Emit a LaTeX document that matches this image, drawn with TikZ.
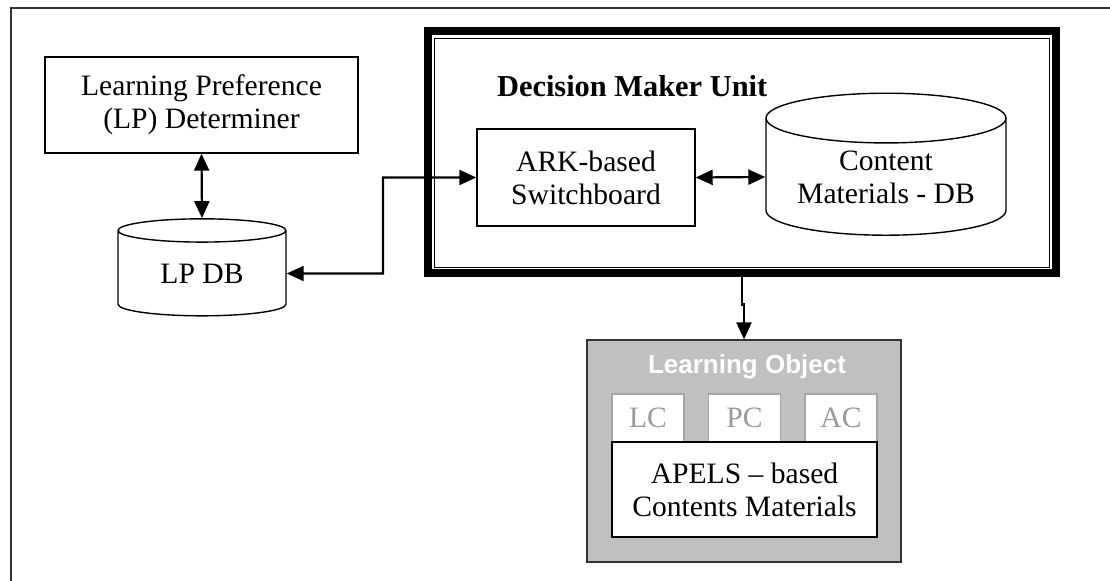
\documentclass[tikz,border=0pt]{standalone}
\usepackage{fontspec}
\setmainfont{Liberation Serif}
\newfontfamily\losans{Liberation Sans}
\usepackage{tikz}
\usetikzlibrary{arrows.meta,calc,shapes.geometric}
\definecolor{logray}{HTML}{C0C0C0}
\definecolor{lcgray}{HTML}{9A9A9A}
\newcommand{\bodyfont}{\fontsize{14.8}{16.5}\selectfont}
\tikzset{
  >={Triangle[length=8.5pt,width=7.5pt]},
  % rutor
  box/.style={draw,line width=0.7pt,align=center,inner sep=0pt,font=\bodyfont},
  db/.style={cylinder,shape border rotate=90,draw,line width=0.7pt,align=center,
             inner sep=0pt,font=\bodyfont},
  dmuframe/.style={draw,line width=4pt,minimum width=314pt,minimum height=121pt,inner sep=0pt},
  thinframe/.style={draw,line width=0.5pt},
  lobox/.style={draw=black!80,fill=logray,line width=0.6pt,minimum width=157pt,
                minimum height=111pt,inner sep=0pt},
  comp/.style={draw=black!35,fill=white,line width=0.6pt,minimum width=36pt,
               minimum height=24pt,inner sep=0pt,text=lcgray,font=\bodyfont},
  % pilar
  conn/.style={->,line width=1.1pt},
  frame/.style={draw=black!80,line width=0.7pt},
}
\begin{document}
\begin{tikzpicture}[x=0.5pt,y=-0.5pt]
  \useasboundingbox (0,0) rectangle (1110,581);
  \draw[frame] (11,581) -- (11,8) -- (1110,8);
  % vänster del
  \node[box,minimum width=156.5pt,minimum height=48pt] (lpdet) at (201.5,105)
    {Learning Preference\\(LP) Determiner};
  \node[db,minimum width=84pt,minimum height=48.5pt,aspect=0.28] (lpdb) at (202,273.5) {LP DB};
  % beslutsenheten
  \node[dmuframe] (dmu) at (742,152.5) {};
  \draw[thinframe] ($(dmu.north west)+(10.5,11)$) rectangle ($(dmu.south east)+(-10.5,-10)$);
  \node[anchor=west,font=\fontsize{15.2}{17}\selectfont\bfseries] (dmutitle) at (490,86)
    {Decision Maker Unit};
  \node[box,minimum width=109pt,minimum height=48.5pt] (ark) at (586,177.5)
    {ARK-based\\Switchboard};
  \node[db,minimum width=120pt,minimum height=71pt,aspect=0.28] (cmdb) at (886,177)
    {Content\\Materials - DB};
  % lärobjekt
  \node[lobox] (lo) at (744,451) {};
  \node[font=\losans\fontsize{13}{15}\selectfont\bfseries,text=white] (lotitle) at (747,367)
    {Learning Object};
  \node[comp] (lc) at (648,418) {LC};
  \node[comp] (pc) at (744.5,418) {PC};
  \node[comp] (ac) at (841,418) {AC};
  \node[box,fill=white,minimum width=132.5pt,minimum height=47.5pt] (apels) at (744.5,489.5)
    {APELS -- based\\Contents Materials};
  % pilar
  \coordinate (bend) at (383,273.5);
  \draw[conn,<->] (lpdet.south) -- (lpdb.north);
  \draw[conn,<->] (lpdb.east) -- (bend) |- (ark.west);
  \draw[conn,<->] (ark.east) -- (cmdb.west);
  \draw[conn] (dmu.south) -- ++(0,27) -| (lo.north);
\end{tikzpicture}
\end{document}
